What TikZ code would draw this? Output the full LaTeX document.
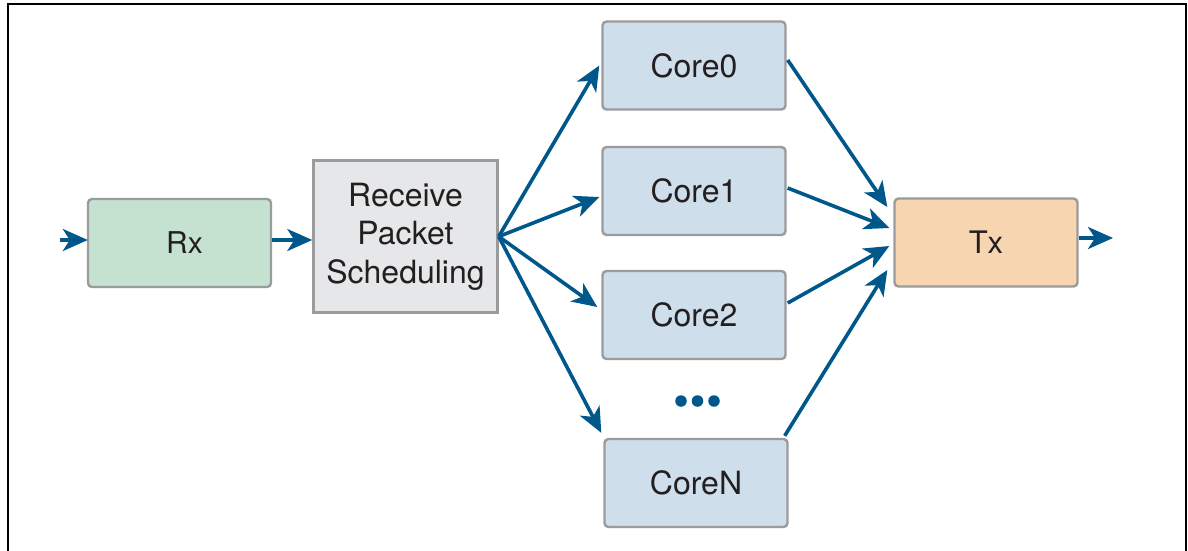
\documentclass[tikz,border=0pt]{standalone}
\usepackage{fontspec}
\setmainfont{TeX Gyre Heros}
\usetikzlibrary{arrows.meta,calc}

\definecolor{flowblue}{RGB}{0,87,138}
\definecolor{boxedge}{RGB}{154,155,157}
\definecolor{rxfill}{RGB}{196,226,207}
\definecolor{corefill}{RGB}{207,222,235}
\definecolor{txfill}{RGB}{246,213,176}
\definecolor{rpsfill}{RGB}{230,231,232}
\definecolor{inktext}{RGB}{35,31,32}

\tikzset{
  blockbox/.style={draw=boxedge, line width=2.4pt, rounded corners=4pt,
    minimum width=183pt, minimum height=88pt, inner sep=0pt,
    text=inktext, font=\fontsize{32}{38.5}\selectfont},
  corebox/.style={blockbox, fill=corefill},
  flow/.style={draw=flowblue, line width=3.6pt,
    -{Stealth[length=25pt,width=22pt,inset=7pt]}},
  dot/.style={circle, fill=flowblue, inner sep=0pt, minimum size=11.5pt}
}

\begin{document}
\begin{tikzpicture}[x=1pt,y=-1pt]
  \useasboundingbox (0,0) rectangle (1188,550);

  % outer frame (open at the bottom)
  \draw[line width=1.6pt, black] (8,556) -- (8,4) -- (1186,4) -- (1186,556);

  % blocks
  \node[blockbox, fill=rxfill, font=\fontsize{30}{34}\selectfont] (rx) at (179.5,243) {\hspace*{10pt}Rx};
  \node[blockbox, fill=rpsfill, rounded corners=0pt, minimum width=184pt,
        minimum height=152pt, align=center] (rps) at (405.5,236.5)
        {Receive\\Packet\\Scheduling};
  \node[corebox] (core0) at (694,65.5) {Core0};
  \node[corebox] (core1) at (694,191) {Core1};
  \node[corebox] (core2) at (694,315) {Core2};
  \node[corebox] (coreN) at (696,483) {CoreN};
  \node[blockbox, fill=txfill, font=\fontsize{31}{34}\selectfont] (tx) at (986,242.5) {Tx};

  % ellipsis between Core2 and CoreN
  \node[dot] (d1) at (681,401) {};
  \node[dot] (d2) at (697.5,401) {};
  \node[dot] (d3) at (714,401) {};

  % free ends of the input and output arrows
  \coordinate (in) at (60,240);
  \coordinate (out) at (1113,238);

  % Rx path
  \draw[flow] (in) -- ($(rx.west)+(1,-3)$);
  \draw[flow] ($(rx.east)+(0,-3)$) -- ($(rps.west)+(0,3.5)$);

  % fan-out to the cores
  \draw[flow] (rps.east) -- ($(core0.west)+(-2,0)$);
  \draw[flow] (rps.east) -- ($(core1.west)+(-2,6)$);
  \draw[flow] (rps.east) -- ($(core2.west)+(-4,-8)$);
  \draw[flow] (rps.east) -- ($(coreN.north west)+(-2,-5)$);

  % fan-in to Tx
  \draw[flow] ($(core0.east)+(1,-5.5)$) -- ($(tx.west)+(-6,-35.5)$);
  \draw[flow] ($(core1.east)+(1,-3)$) -- ($(tx.west)+(-4,-14.5)$);
  \draw[flow] ($(core2.east)+(1,-12)$) -- ($(tx.west)+(-4,3.5)$);
  \draw[flow] ($(coreN.north east)+(-4,-2)$) -- ($(tx.west)+(-6,27.5)$);

  % Tx output
  \draw[flow] ($(tx.east)+(0,-4.5)$) -- (out);
\end{tikzpicture}
\end{document}
